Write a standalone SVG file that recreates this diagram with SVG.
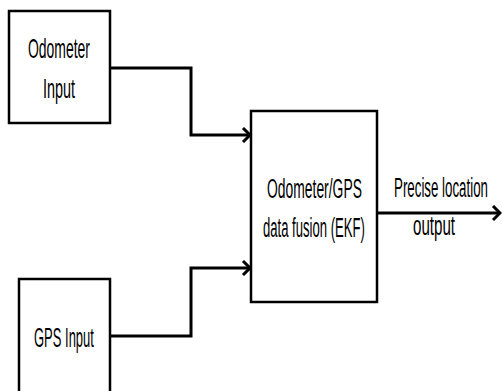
<svg xmlns="http://www.w3.org/2000/svg" width="502" height="391" viewBox="0 0 502 391">
<defs>
<style>
.box{fill:#fff;stroke:#000;stroke-width:2.5}
.con{fill:none;stroke:#000;stroke-width:3}
.t{font-family:"Liberation Sans",Arial,sans-serif;font-size:28px;fill:#000}
</style>
<marker id="arr" markerUnits="userSpaceOnUse" markerWidth="14" markerHeight="16" refX="10" refY="8" orient="auto" viewBox="0 0 14 16">
<polyline points="3,1 10,8 3,15" fill="none" stroke="#000" stroke-width="3"/>
</marker>
</defs>
<rect width="502" height="391" fill="#fff"/>
<g id="odometer">
<rect class="box" x="9" y="11" width="101" height="112"/>
<text class="t" transform="matrix(0.498,0,0,1,28,58)">Odometer</text>
<text class="t" transform="matrix(0.514,0,0,1,43,98)">Input</text>
</g>
<g id="gps">
<rect class="box" x="19" y="279" width="91" height="115"/>
<text class="t" transform="matrix(0.464,0,0,1,34,347)">GPS Input</text>
</g>
<g id="fusion">
<rect class="box" x="251" y="111" width="126" height="191"/>
<text class="t" transform="matrix(0.496,0,0,1,267,198)">Odometer/GPS</text>
<text class="t" transform="matrix(0.468,0,0,1,263,237)">data fusion (EKF)</text>
</g>
<g id="output-label">
<text class="t" transform="matrix(0.476,0,0,1,394,197)">Precise location</text>
<text class="t" transform="matrix(0.54,0,0,1,413,235)">output</text>
</g>
<g id="connectors">
<polyline class="con" points="110,68 191,68 191,135 250,135" marker-end="url(#arr)"/>
<polyline class="con" points="110,336 191,336 191,268 250,268" marker-end="url(#arr)"/>
<line class="con" x1="377" y1="213" x2="500" y2="213" marker-end="url(#arr)"/>
</g>
</svg>
